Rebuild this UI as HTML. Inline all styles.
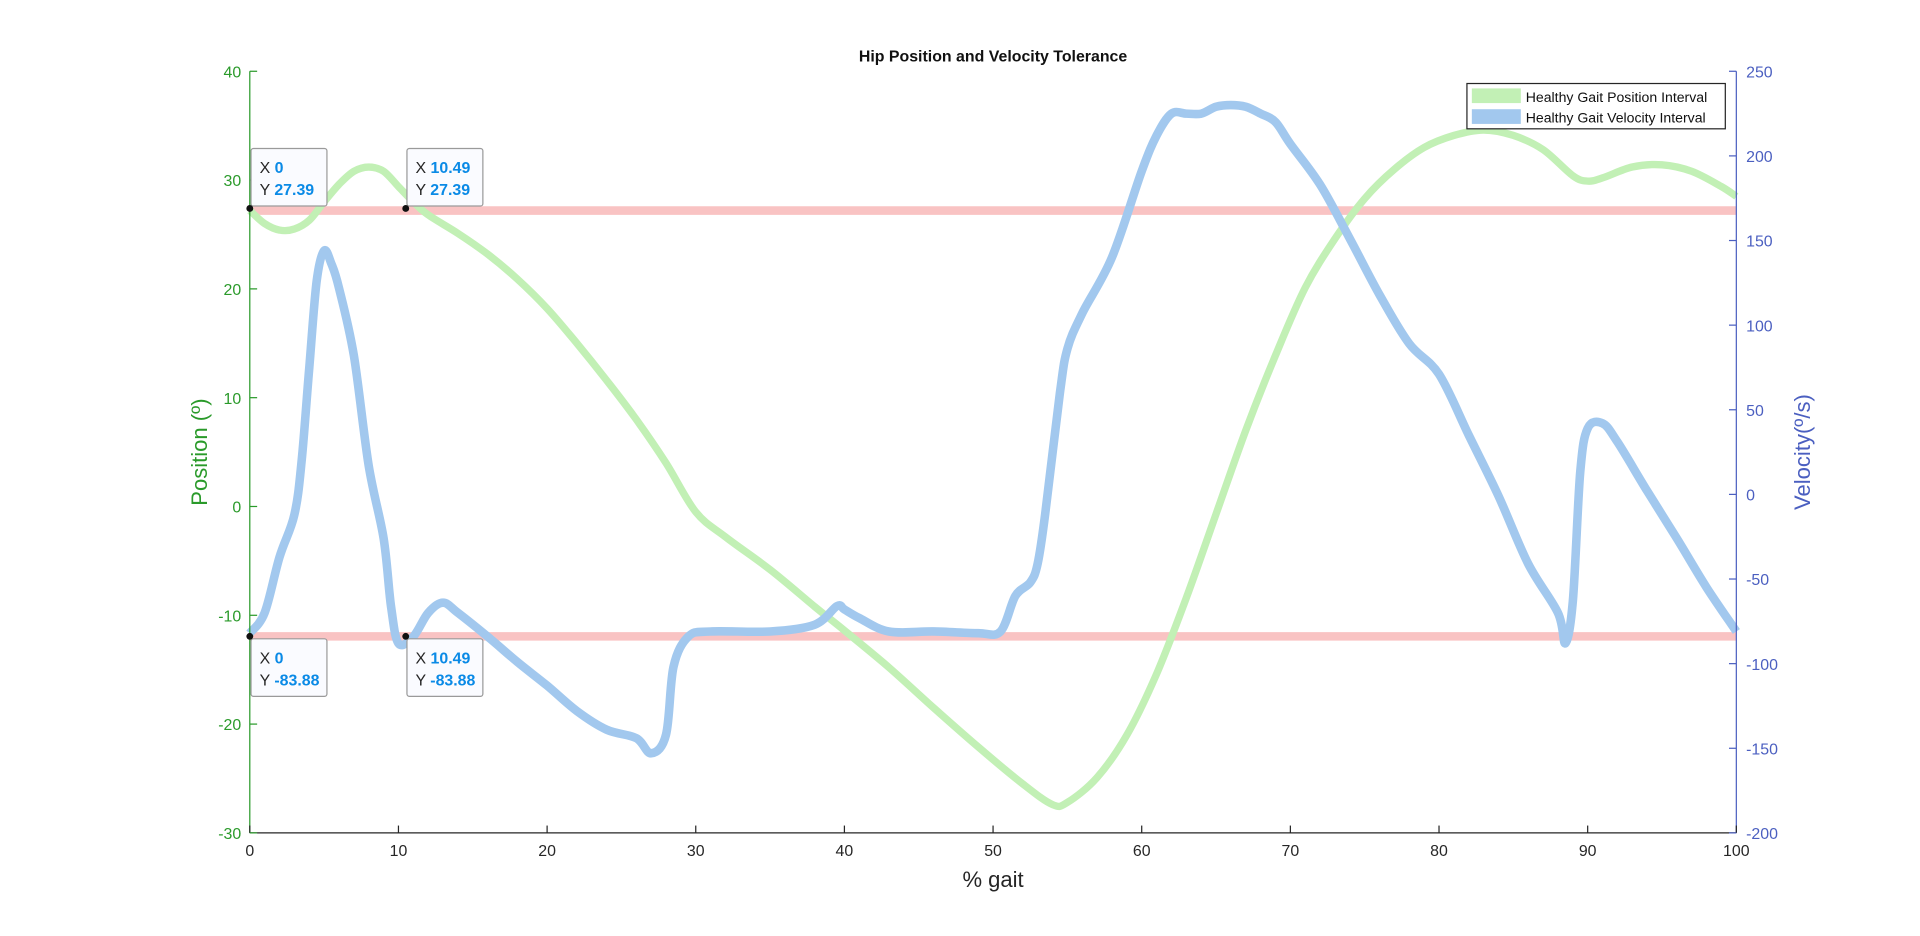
<!DOCTYPE html>
<html><head><meta charset="utf-8"><style>
html,body{margin:0;padding:0;background:#fff;width:1920px;height:936px;overflow:hidden}
svg{display:block;font-family:"Liberation Sans",Arial,sans-serif}
</style></head><body>
<svg id="chart" width="1920" height="936" viewBox="0 0 1568 764" xmlns="http://www.w3.org/2000/svg"></svg>
<script>
const pctX=[0,1,2,3,4,5,6,7,8,9,10,11,12,14,16,18,20,22,24,26,28,30,32,35,38,40,43,46,49,52,54,55,57,59,61,63,65,67,69,71,73,75,77,79,81,83,85,87,89,90,91,93,95,97,99,100];
const posVals=[27.2,26,25.4,25.5,26.3,28,29.6,30.8,31.2,30.8,29.4,28,26.8,25.1,23.2,20.9,18.2,15,11.6,8,4,-0.5,-2.8,-5.8,-9.2,-11.4,-14.8,-18.5,-22.1,-25.5,-27.4,-27.2,-24.9,-21,-15.4,-8.4,-0.7,7,13.9,20.1,24.6,28.3,31,33,34.1,34.6,34.1,32.8,30.4,29.9,30.2,31.2,31.4,30.8,29.4,28.5];
const velX=[0,1,2,3,3.5,4,4.5,5,5.5,6,7,8,9,9.5,10,11,12,13,14,16,18,20,22,24,26,27,28,28.5,29.5,31,35,38,39.5,40,41,43,46,49,50.5,51.5,52.5,53,53.5,54.5,55,56,58,60,61,62,63,64,65,66,67,68,69,70,72,74,76,78,80,82,84,86,88,88.5,89,89.5,90,91,92,94,96,98,100];
const velVals=[-82,-70,-37,-12,21,75,126,144,136,122,82,17,-26,-66,-88,-84,-70,-64,-70,-84,-99,-113,-128,-139,-144,-153,-142,-102,-84,-81,-81,-77,-66,-68,-73,-81,-81,-82,-81,-60,-52,-41,-12,60,86,107,140,191,212,225,225,225,229,230,229,225,220,207,183,151,118,89,71,35,-1,-41,-70,-88,-63,13,39,42,31,2,-26,-55,-81];
const xTicks=[0,10,20,30,40,50,60,70,80,90,100];
const posTicks=[-30,-20,-10,0,10,20,30,40];
const velTicks=[-200,-150,-100,-50,0,50,100,150,200,250];
const tolPos=27.2, tolVel=-83.88;
const tips=[{x:0,y:'27.39',v:27.39,ax:'L',dy:-1},{x:10.49,y:'27.39',v:27.39,ax:'L',dy:-1},{x:0,y:'-83.88',v:-83.88,ax:'R',dy:1},{x:10.49,y:'-83.88',v:-83.88,ax:'R',dy:1}];

const L=204,R=1418,T=58,B=680;
const sx=v=>L+(v/100)*(R-L);
const sy=v=>B-(v+30)/70*(B-T);
const sv=v=>B-(v+200)/450*(B-T);
const svg=document.getElementById('chart');
const NS='http://www.w3.org/2000/svg';
function mk(t,a,txt){const e=document.createElementNS(NS,t);for(const k in a)e.setAttribute(k,a[k]);if(txt!==undefined)e.textContent=txt;svg.appendChild(e);return e;}
function smooth(p){let d='M'+p[0][0].toFixed(1)+' '+p[0][1].toFixed(1);
  for(let i=0;i<p.length-1;i++){const p0=p[Math.max(0,i-1)],p1=p[i],p2=p[i+1],p3=p[Math.min(p.length-1,i+2)];
    const c1=[p1[0]+(p2[0]-p0[0])/6,p1[1]+(p2[1]-p0[1])/6],c2=[p2[0]-(p3[0]-p1[0])/6,p2[1]-(p3[1]-p1[1])/6];
    d+=' C'+c1.map(v=>v.toFixed(1)).join(' ')+' '+c2.map(v=>v.toFixed(1)).join(' ')+' '+p2[0].toFixed(1)+' '+p2[1].toFixed(1);}
  return d;}

let e=mk('line',{x1:L,x2:R,y1:sy(tolPos),y2:sy(tolPos),stroke:'#f9c3c3','stroke-width':7});


e=mk('line',{x1:L,x2:R,y1:sv(tolVel),y2:sv(tolVel),stroke:'#f9c3c3','stroke-width':7});



e=mk('path',{d:smooth(pctX.map((x,i)=>[sx(x),sy(posVals[i])])),fill:'none',stroke:'#c2f0b5','stroke-width':6,'stroke-linejoin':'round'});


e=mk('path',{d:smooth(velX.map((x,i)=>[sx(x),sv(velVals[i])])),fill:'none',stroke:'#a2c8ee','stroke-width':7,'stroke-linejoin':'round'});



e=mk('line',{x1:L,x2:L,y1:T,y2:B,stroke:'#2a9a2a','stroke-width':1});


e=mk('line',{x1:R,x2:R,y1:T,y2:B,stroke:'#4b5fc0','stroke-width':1});


e=mk('line',{x1:L,x2:R,y1:B,y2:B,stroke:'#262626','stroke-width':1});


xTicks.forEach(t=>{
  mk('line',{x1:sx(t),x2:sx(t),y1:B,y2:B-6,stroke:'#262626'});
  e=mk('text',{x:sx(t),y:B+19,'text-anchor':'middle','font-size':13,fill:'#262626'},t);
  
  
});
posTicks.forEach(t=>{
  mk('line',{x1:L,x2:L+6,y1:sy(t),y2:sy(t),stroke:'#2a9a2a'});
  e=mk('text',{x:L-7,y:sy(t)+5,'text-anchor':'end','font-size':13,fill:'#2a9a2a'},t);
  
  
});
velTicks.forEach(t=>{
  mk('line',{x1:R,x2:R-6,y1:sv(t),y2:sv(t),stroke:'#4b5fc0'});
  e=mk('text',{x:R+8,y:sv(t)+5,'text-anchor':'start','font-size':13,fill:'#4b5fc0'},t);
  
  
});
e=mk('text',{x:811,y:50,'text-anchor':'middle','font-size':13,'font-weight':'bold',fill:'#111'},'Hip Position and Velocity Tolerance');


e=mk('text',{x:811,y:724,'text-anchor':'middle','font-size':18,fill:'#262626'},'% gait');


e=mk('text',{x:0,y:0,'text-anchor':'middle','font-size':18,fill:'#2a9a2a',transform:'translate(169,369) rotate(-90)'},'Position (º)');


e=mk('text',{x:0,y:0,'text-anchor':'middle','font-size':18,fill:'#4b5fc0',transform:'translate(1478,369) rotate(-90)'},'Velocity(º/s)');



e=mk('rect',{x:1198,y:68,width:211,height:37,fill:'#fff',stroke:'#262626','stroke-width':1});


mk('rect',{x:1202,y:72,width:40,height:12,fill:'#c2f0b5'});
mk('rect',{x:1202,y:89,width:40,height:12,fill:'#a2c8ee'});
e=mk('text',{x:1246,y:83,'font-size':11.5,fill:'#111'},'Healthy Gait Position Interval');


e=mk('text',{x:1246,y:100,'font-size':11.5,fill:'#111'},'Healthy Gait Velocity Interval');



tips.forEach(t=>{
  const px=sx(t.x), py=t.ax==='L'?sy(t.v):sv(t.v);
  const by=t.dy<0?py-49:py+2;
  e=mk('rect',{x:px+1,y:by,width:62,height:47,rx:2,fill:'#fafbff',stroke:'#9a9a9a','stroke-width':1});
  
  
  const tx=mk('text',{x:px+8,y:by+20,'font-size':13,fill:'#262626'});
  tx.innerHTML='X <tspan fill="#0a8ae6" font-weight="bold">'+t.x+'</tspan>';
  const ty=mk('text',{x:px+8,y:by+38,'font-size':13,fill:'#262626'});
  ty.innerHTML='Y <tspan fill="#0a8ae6" font-weight="bold">'+t.y+'</tspan>';
  e=mk('circle',{cx:px,cy:py,r:2.8,fill:'#111'});
  
  
});
</script>
</body></html>
